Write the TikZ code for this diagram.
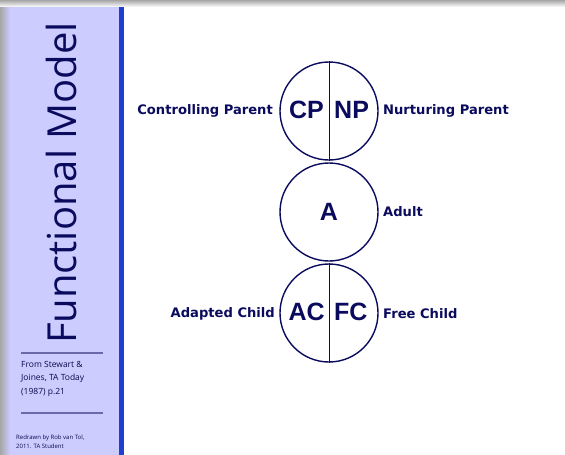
\documentclass[tikz,border=0pt]{standalone}
\usepackage{fontspec}
\setmainfont{DejaVu Sans}
\newfontfamily\labfont{DejaVu Sans}
\newfontfamily\bigfont{Liberation Sans}
\newfontfamily\titfont{Open Sans}
\definecolor{navy}{HTML}{0B0B5E}
\definecolor{lav}{HTML}{CCCCFF}
\definecolor{barblue}{HTML}{1F3FD0}
\definecolor{rulec}{HTML}{6A6AAA}
\begin{document}
\begin{tikzpicture}[x=1pt,y=-1pt,
  circ/.style={draw=navy,line width=1.4pt},
  lab/.style={text=navy,font=\labfont\bfseries\fontsize{13.1}{15}\selectfont,inner sep=0pt},
  big/.style={text=navy,font=\bigfont\bfseries\fontsize{25}{27}\selectfont,inner sep=0pt},
  note/.style={text=navy!80!black,font=\titfont\fontsize{8.5}{13.5}\selectfont,inner sep=0pt,align=left}]
\useasboundingbox (0,0) rectangle (565,455);
\fill[white] (0,0) rectangle (565,455);
% shadows
\shade[top color=gray!70,bottom color=white] (0,0) rectangle (565,7);
\shade[left color=gray!70,right color=lav] (0,7) rectangle (10,455);
% side panel
\fill[lav] (10,7) rectangle (119,455);
\fill[barblue] (119,7) rectangle (124,455);
\node[text=navy,font=\titfont\fontsize{40}{42}\selectfont,rotate=90,inner sep=0pt] (title) at (61,183) {Functional Model};
\draw[rulec,line width=1.2pt] (21,353) coordinate (r1a) -- (103,353) coordinate (r1b);
\draw[rulec,line width=1.2pt] (21,413) coordinate (r2a) -- (103,413) coordinate (r2b);
\node[note,anchor=north west] (src) at (21,361) {From Stewart \&\\Joines, TA Today\\(1987) p.21};
\node[note,anchor=north west,font=\titfont\fontsize{6}{9}\selectfont] (red) at (16,435) {Redrawn by Rob van Tol,\\2011. TA Student};
% circles
\node[circ,circle,minimum size=98pt,inner sep=0pt] (P) at (329,111) {};
\node[circ,circle,minimum size=98pt,inner sep=0pt] (A) at (329,212) {};
\node[circ,circle,minimum size=98pt,inner sep=0pt] (C) at (329,313) {};
\draw[navy,line width=1pt] (P.north) -- (P.south);
\draw[navy,line width=1pt] (C.north) -- (C.south);
\node[big,anchor=east] (cp) at (324,110) {CP};
\node[big,anchor=west] (np) at (334,110) {NP};
\node[big] (a) at (329,212) {A};
\node[big,anchor=east] (ac) at (325,312) {AC};
\node[big,anchor=west] (fc) at (334,312) {FC};
\node[lab,anchor=east] (lcp) at (273,111) {Controlling Parent};
\node[lab,anchor=west] (lnp) at (383,111) {Nurturing Parent};
\node[lab,anchor=west] (la) at (383,212) {Adult};
\node[lab,anchor=east] (lac) at (275,314) {Adapted Child};
\node[lab,anchor=west] (lfc) at (383,314) {Free Child};
\end{tikzpicture}
\end{document}
